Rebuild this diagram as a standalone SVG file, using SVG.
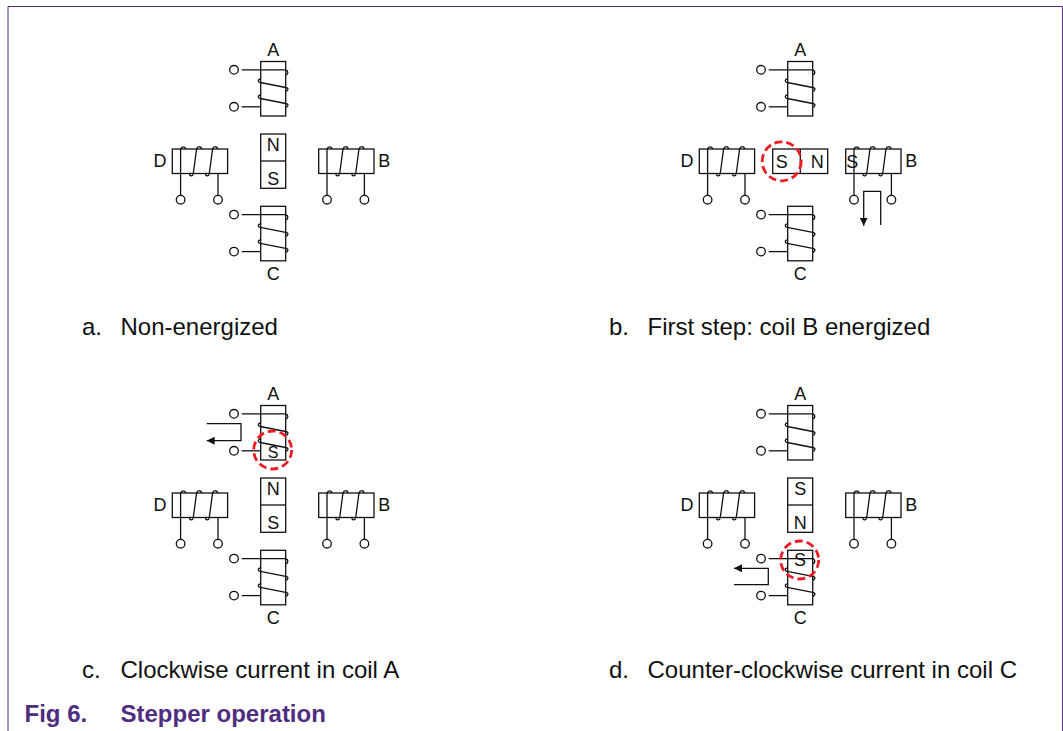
<svg xmlns="http://www.w3.org/2000/svg" width="1063" height="731" viewBox="0 0 1063 731">
<style>
.l{fill:none;stroke:#111;stroke-width:1.3}
.c{fill:#fff;stroke:#111;stroke-width:1.3}
.h{fill:none;stroke:#111;stroke-width:1.3}
.t{font-family:"Liberation Sans",Arial,sans-serif;font-size:18px;fill:#111;text-anchor:middle}
.s{font-size:16px}
.p{font-family:"Liberation Sans",Arial,sans-serif;font-size:24px;fill:#111}
.f{font-family:"Liberation Sans",Arial,sans-serif;font-size:24px;font-weight:bold;fill:#4f2d7f}
.r{fill:none;stroke:#ed1c24;stroke-width:2.8;stroke-dasharray:8 4}
</style>
<defs>
<marker id="ah" markerUnits="userSpaceOnUse" markerWidth="8" markerHeight="8" refX="8" refY="4" orient="auto"><path d="M0,0L8,4L0,8Z" fill="#111"/></marker>
<g id="vc">
<rect class="l" x="0" y="0" width="25" height="54.5"/>
<path class="h" d="M-19,8.3H25Q27.5,9.5 27,11.5Q26.7,13.3 25,13.2"/>
<path class="h" d="M0,17.5Q-2.6,17.8 -2.4,19.5Q-2.2,21 -0.5,21L25,26Q27.5,26.5 27.2,28Q27,29.8 25,29.7"/>
<path class="h" d="M0,33.5Q-2.6,33.8 -2.4,35.5Q-2.2,37 -0.5,37L25,42Q27.5,42.5 27.2,44Q27,45.8 25,45.7"/>
<path class="h" d="M-19,45.3H0"/>
<circle class="c" cx="-26.7" cy="8.3" r="4.3"/>
<circle class="c" cx="-26.7" cy="45.3" r="4.3"/>
</g>
<g id="hc">
<rect class="l" x="0" y="0" width="55.3" height="24.5"/>
<path class="h" d="M8.3,46.7V0Q9,-2.2 11,-2.2Q13,-2.2 13.5,0"/>
<path class="h" d="M17,24.5Q17.3,27 19,26.8Q20.7,26.6 21,24.5L24.3,0Q25,-2.3 27,-2.3Q29,-2.3 29.3,0"/>
<path class="h" d="M33,24.5Q33.3,27 35,26.8Q36.7,26.6 37,24.5L40.3,0Q41,-2.3 43,-2.3Q45,-2.3 45.3,0"/>
<path class="h" d="M45.7,24.5V46.7"/>
<circle class="c" cx="8.3" cy="50.7" r="4.3"/>
<circle class="c" cx="45.7" cy="50.7" r="4.3"/>
</g>
<g id="coils">
<use href="#vc" x="260.7" y="61.5"/>
<use href="#vc" x="260.7" y="206.3"/>
<use href="#hc" x="172.3" y="149"/>
<use href="#hc" x="318.7" y="149"/>
<text class="t" x="273.3" y="56">A</text>
<text class="t" x="273.3" y="280">C</text>
<text class="t" x="160" y="167">D</text>
<text class="t" x="384.3" y="167">B</text>
</g>
</defs>
<path id="frame" d="M8,731V6.5H1062.5V731" fill="none" stroke="#4f2d7f" stroke-width="1"/>
<g id="panel-a">
<use href="#coils"/>
<g id="magnet-a"><rect class="l" x="260.7" y="134" width="25" height="54.3"/><path class="l" d="M260.7,161H285.7"/><text class="t" x="273.3" y="151">N</text><text class="t" x="273.3" y="185">S</text></g>
<text class="p" x="82" y="335">a.</text><text class="p" x="120.5" y="335">Non-energized</text>
</g>
<g id="panel-b">
<use href="#coils" x="527"/>
<g id="magnet-b"><rect class="l" x="772.7" y="149" width="55" height="24.5"/><path class="l" d="M800.3,149V173.5"/><text class="t" x="781.7" y="167.5">S</text><text class="t" x="817.3" y="167.5">N</text></g>
<text class="t" x="852.3" y="167.5">S</text>
<circle class="r" cx="781.7" cy="161.3" r="19.5"/>
<g id="connector-b"><path class="l" d="M880.7,225V191.3H863.7V225.7" marker-end="url(#ah)"/></g>
<text class="p" x="609" y="335">b.</text><text class="p" x="647.5" y="335">First step: coil B energized</text>
</g>
<g id="panel-c">
<use href="#coils" y="344"/>
<g id="magnet-c"><rect class="l" x="260.7" y="478" width="25" height="54.3"/><path class="l" d="M260.7,505H285.7"/><text class="t" x="273.3" y="495">N</text><text class="t" x="273.3" y="529">S</text></g>
<text class="t s" x="273" y="458">S</text>
<circle class="r" cx="272.7" cy="450" r="19"/>
<g id="connector-c"><path class="l" d="M206.7,423.7H241V440.7H206.7" marker-end="url(#ah)"/></g>
<text class="p" x="82" y="678.3">c.</text><text class="p" x="120.5" y="678.3">Clockwise current in coil A</text>
</g>
<g id="panel-d">
<use href="#coils" x="527" y="344"/>
<g id="magnet-d"><rect class="l" x="787.7" y="478" width="25" height="54.3"/><path class="l" d="M787.7,505H812.7"/><text class="t" x="800.3" y="495">S</text><text class="t" x="800.3" y="529">N</text></g>
<text class="t" x="800" y="566">S</text>
<circle class="r" cx="799.7" cy="560" r="19"/>
<g id="connector-d"><path class="l" d="M734,584.7H768.3V568.3H734" marker-end="url(#ah)"/></g>
<text class="p" x="609" y="678.3">d.</text><text class="p" x="647.5" y="678.3">Counter-clockwise current in coil C</text>
</g>
<g id="caption"><text class="f" x="24.5" y="721.7">Fig 6.</text><text class="f" x="120.5" y="721.7">Stepper operation</text></g>
</svg>
